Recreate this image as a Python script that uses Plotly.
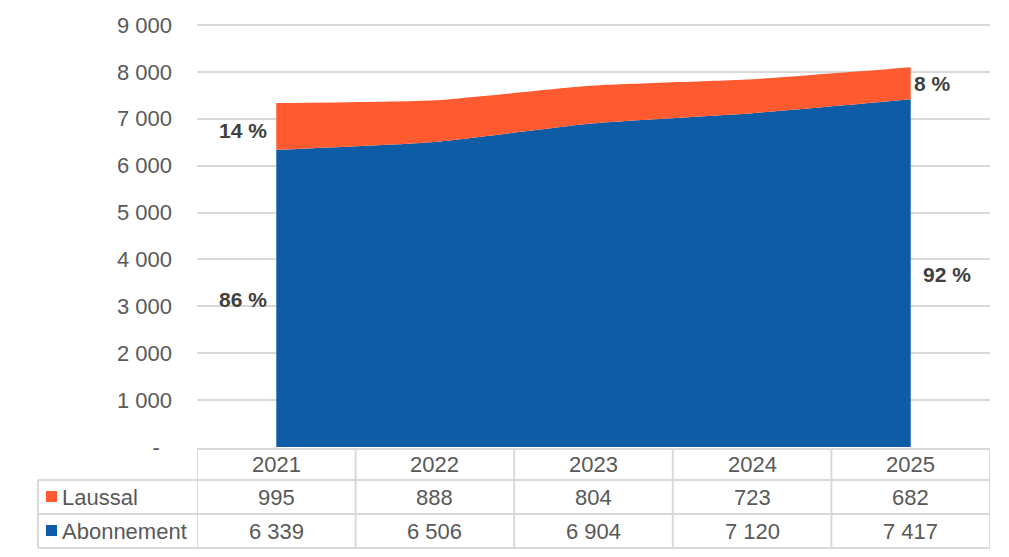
import plotly.graph_objects as go

years = ["2021", "2022", "2023", "2024", "2025"]
abonnement = [6339, 6506, 6904, 7120, 7417]
laussal = [995, 888, 804, 723, 682]
y_ticks = [0, 1000, 2000, 3000, 4000, 5000, 6000, 7000, 8000, 9000]
y_tick_text = ["-\u00a0\u00a0", "1 000", "2 000", "3 000", "4 000", "5 000",
               "6 000", "7 000", "8 000", "9 000"]

blue = "#0F5CA6"
orange = "#FF5A30"
grid = "#D9D9D9"
txt = "#595959"
FONT = "Liberation Sans, Arial, sans-serif"
FS = 22

W, H = 1009, 557
L, R, T, B = 197, 19, 15, 110
ph = H - T - B
# value range so that 9000 sits at pixel 25 (top gridline stays visible)
y_top = 9000 * ph / (H - B - 25)


def py(p):
    # pixel y -> paper y
    return (H - B - p) / ph


def px(p):
    return (p - L) / (W - L - R)


def fmt(v):
    return f"{v:,}".replace(",", " ")


fig = go.Figure()
fig.add_trace(go.Scatter(
    x=list(range(5)), y=abonnement, name="Abonnement", stackgroup="s",
    mode="none", fillcolor=blue, line=dict(shape="spline", smoothing=0.5, width=0),
    hoverinfo="skip"))
fig.add_trace(go.Scatter(
    x=list(range(5)), y=laussal, name="Laussal", stackgroup="s",
    mode="none", fillcolor=orange, line=dict(shape="spline", smoothing=0.5, width=0),
    hoverinfo="skip"))

fig.update_layout(
    width=W, height=H, margin=dict(l=L, r=R, t=T, b=B),
    paper_bgcolor="white", plot_bgcolor="white", showlegend=False,
    font=dict(family=FONT, size=FS, color=txt),
    xaxis=dict(range=[-0.5, 4.5], showticklabels=False, showgrid=False,
               zeroline=False, fixedrange=True),
    yaxis=dict(range=[0, y_top], tickvals=y_ticks, ticktext=y_tick_text,
               showgrid=True, gridcolor=grid, gridwidth=1.5, zeroline=False,
               ticklabelstandoff=24, tickfont=dict(size=FS, color=txt)),
)

# table lines
shapes = []
rows_px = [449, 480, 514, 548]
for i, r in enumerate(rows_px):
    x0 = L if i == 0 else 38
    shapes.append(dict(type="line", xref="paper", yref="paper",
                       x0=px(x0), x1=px(990), y0=py(r), y1=py(r),
                       line=dict(color=grid, width=2)))
shapes.append(dict(type="line", xref="paper", yref="paper",
                   x0=px(38), x1=px(38), y0=py(480), y1=py(548),
                   line=dict(color=grid, width=2)))
for k in range(6):
    shapes.append(dict(type="line", xref="x", yref="paper",
                       x0=k - 0.5, x1=k - 0.5, y0=py(449), y1=py(548),
                       line=dict(color=grid, width=2)))
# legend squares in table
for col, r in [(orange, 497), (blue, 531)]:
    shapes.append(dict(type="rect", xref="paper", yref="paper",
                       x0=px(46), x1=px(57), y0=py(r - 6), y1=py(r + 5),
                       fillcolor=col, line=dict(width=0)))
fig.update_layout(shapes=shapes)

ann = []
for i, yr in enumerate(years):
    for val, r in [(yr, 464), (fmt(laussal[i]), 497), (fmt(abonnement[i]), 531)]:
        ann.append(dict(x=i, y=py(r), xref="x", yref="paper", text=val,
                        xanchor="center", yanchor="middle",
                        showarrow=False, font=dict(size=FS, color=txt)))
for name, r in [("Laussal", 497), ("Abonnement", 531)]:
    ann.append(dict(x=px(60), y=py(r), xref="paper", yref="paper", text=name,
                    xanchor="left", yanchor="middle",
                    showarrow=False, font=dict(size=FS, color=txt)))

# share labels
tot0 = abonnement[0] + laussal[0]
tot4 = abonnement[-1] + laussal[-1]
pct = [
    (-0.21, 6760, round(100 * laussal[0] / tot0)),
    (-0.21, 3140, round(100 * abonnement[0] / tot0)),
    (4.14, 7760, round(100 * laussal[-1] / tot4)),
    (4.23, 3670, round(100 * abonnement[-1] / tot4)),
]
for x, y, p in pct:
    ann.append(dict(x=x, y=y, xref="x", yref="y", text=f"<b>{p} %</b>",
                    xanchor="center", yanchor="middle",
                    showarrow=False, font=dict(size=FS - 1, color="#404040")))
fig.update_layout(annotations=ann)

fig.write_html("out.html", config={"displayModeBar": False},
               post_script="document.body.style.margin='0';")
